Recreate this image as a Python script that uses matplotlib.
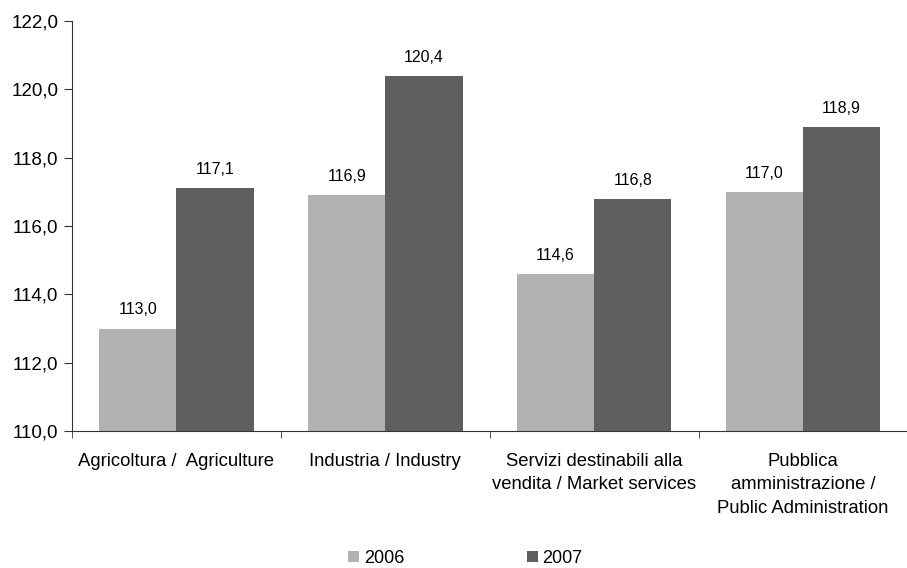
import numpy as np
from matplotlib import pyplot as plt

plt.rcParams['font.family'] = ['Liberation Sans', 'DejaVu Sans']

categories = ['Agricoltura /  Agriculture', 'Industria / Industry',
              'Servizi destinabili alla\nvendita / Market services',
              'Pubblica\namministrazione /\nPublic Administration']
years = ['2006', '2007']
values_2006 = [113.0, 116.9, 114.6, 117.0]
values_2007 = [117.1, 120.4, 116.8, 118.9]
colors = ['#b2b2b2', '#5f5f5f']


def fmt(v):
    return ('%.1f' % v).replace('.', ',')


fig = plt.figure(figsize=(9.07, 5.68), dpi=100)
ax = fig.add_axes([0.0794, 0.241, 0.921, 0.722])

x = np.arange(len(categories))
w = 0.37
for i, (vals, lab) in enumerate([(values_2006, years[0]), (values_2007, years[1])]):
    pos = x - w / 2 + i * w
    ax.bar(pos, [v - 110 for v in vals], w, bottom=110, color=colors[i], label=lab)
    for p, v in zip(pos, vals):
        ax.annotate(fmt(v), (p, v), xytext=(0, 8), textcoords='offset points',
                    ha='center', va='bottom', fontsize=11.5)

ax.set_ylim(110, 122)
ax.set_xlim(-0.5, len(categories) - 0.5)
ax.set_yticks(np.arange(110, 122.1, 2))
ax.set_yticklabels([fmt(t) for t in np.arange(110, 122.1, 2)], fontsize=13.5)
ax.set_xticks(x)
ax.set_xticklabels(categories, fontsize=13.3, linespacing=1.47, va='top')
ax.tick_params(axis='x', which='major', length=0, pad=16)
ax.set_xticks(np.arange(-0.5, len(categories), 1), minor=True)
ax.tick_params(axis='x', which='minor', length=5, color='#333333')
ax.tick_params(axis='y', length=6, color='#333333', pad=4)
for s in ['top', 'right']:
    ax.spines[s].set_visible(False)
for s in ['left', 'bottom']:
    ax.spines[s].set_color('#333333')

fig.legend(loc='center', bbox_to_anchor=(0.513, 0.017), ncol=2, frameon=False,
           fontsize=13, handlelength=0.6, handleheight=0.6, handletextpad=0.25,
           columnspacing=6.8)

plt.savefig('out.png', dpi=100)
